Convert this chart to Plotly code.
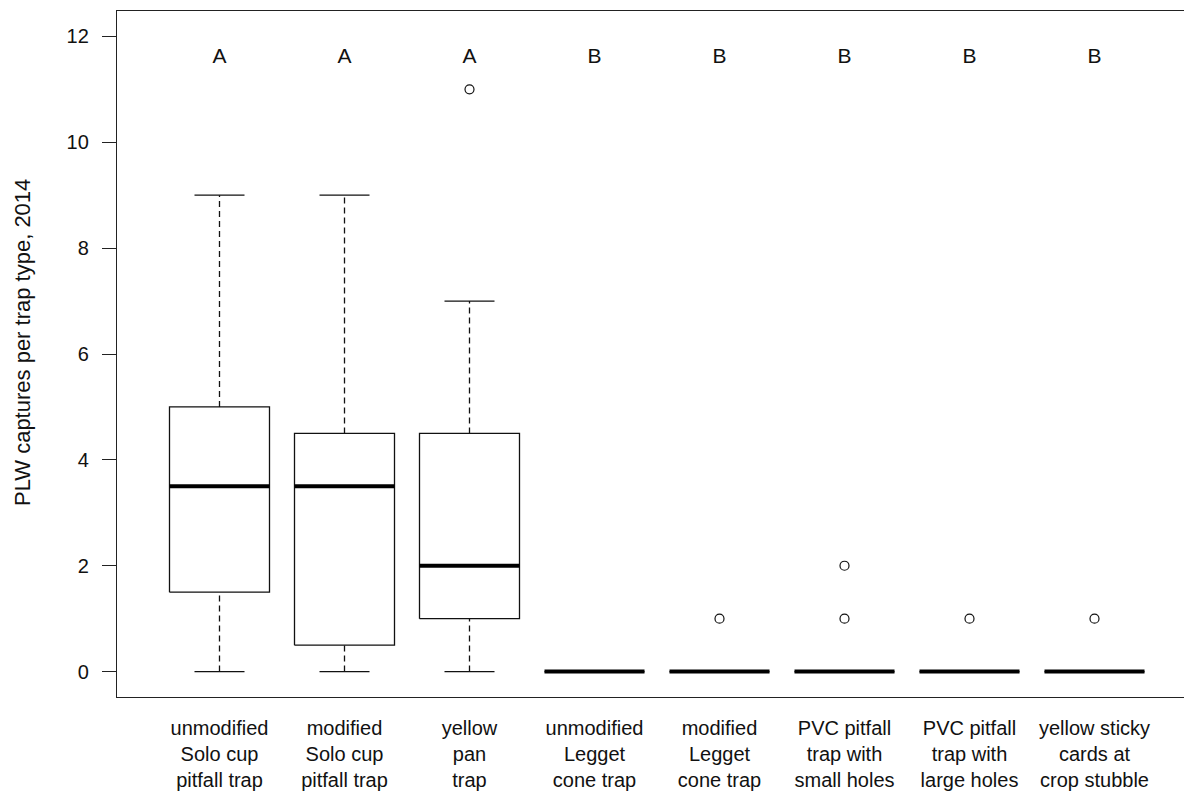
import plotly.graph_objects as go

# ---- data ----
categories = [
    "unmodified<br>Solo cup<br>pitfall trap",
    "modified<br>Solo cup<br>pitfall trap",
    "yellow<br>pan<br>trap",
    "unmodified<br>Legget<br>cone trap",
    "modified<br>Legget<br>cone trap",
    "PVC pitfall<br>trap with<br>small holes",
    "PVC pitfall<br>trap with<br>large holes",
    "yellow sticky<br>cards at<br>crop stubble",
]
positions = [1, 2, 3, 4, 5, 6, 7, 8]
lower_whisker = [0, 0, 0, 0, 0, 0, 0, 0]
q1 = [1.5, 0.5, 1.0, 0, 0, 0, 0, 0]
median = [3.5, 3.5, 2.0, 0, 0, 0, 0, 0]
q3 = [5.0, 4.5, 4.5, 0, 0, 0, 0, 0]
upper_whisker = [9, 9, 7, 0, 0, 0, 0, 0]
outlier_group = [3, 5, 6, 6, 7, 8]
outlier_value = [11, 1, 1, 2, 1, 1]
letters = ["A", "A", "A", "B", "B", "B", "B", "B"]
letter_y = 11.6
y_ticks = [0, 2, 4, 6, 8, 10, 12]

BOXW = 0.4   # half width of box
CAPW = 0.2   # half width of whisker cap
INK = "#111111"
FONT = "Liberation Sans, Arial, sans-serif"

box_x, box_y = [], []
wh_x, wh_y = [], []
cap_x, cap_y = [], []
med_x, med_y = [], []
for p, lw, a, m, b, uw in zip(positions, lower_whisker, q1, median, q3, upper_whisker):
    box_x += [p - BOXW, p + BOXW, p + BOXW, p - BOXW, p - BOXW, None]
    box_y += [a, a, b, b, a, None]
    wh_x += [p, p, None, p, p, None]
    wh_y += [lw, a, None, b, uw, None]
    cap_x += [p - CAPW, p + CAPW, None, p - CAPW, p + CAPW, None]
    cap_y += [lw, lw, None, uw, uw, None]
    med_x += [p - BOXW, p + BOXW, None]
    med_y += [m, m, None]

fig = go.Figure()
fig.add_trace(go.Scatter(x=wh_x, y=wh_y, mode="lines",
                         line=dict(color=INK, width=1.3, dash="6px,4px"),
                         hoverinfo="skip"))
fig.add_trace(go.Scatter(x=cap_x, y=cap_y, mode="lines",
                         line=dict(color=INK, width=1.3), hoverinfo="skip"))
fig.add_trace(go.Scatter(x=box_x, y=box_y, mode="lines",
                         line=dict(color=INK, width=1.3), hoverinfo="skip"))
fig.add_trace(go.Scatter(x=med_x, y=med_y, mode="lines",
                         line=dict(color="#000000", width=4), hoverinfo="skip"))
fig.add_trace(go.Scatter(x=outlier_group, y=outlier_value, mode="markers",
                         marker=dict(symbol="circle-open", size=9, color=INK,
                                     line=dict(width=1.2, color=INK))))
fig.add_trace(go.Scatter(x=positions, y=[letter_y] * len(positions), mode="text",
                         text=letters, textposition="middle center",
                         textfont=dict(size=21, color=INK, family=FONT)))

W, H = 1184, 792
ML, MR, MT, MB = 117, 0, 11, 95
fig.update_layout(
    width=W, height=H,
    margin=dict(l=ML, r=MR, t=MT, b=MB),
    paper_bgcolor="white", plot_bgcolor="white",
    showlegend=False,
    font=dict(family=FONT, size=20, color=INK),
    xaxis=dict(
        range=[0.18, 0.18 + (W - ML - MR) / 125.0],
        tickvals=positions, ticktext=categories,
        ticks="", showgrid=False, zeroline=False,
        showline=True, mirror=True, linecolor="#222222", linewidth=1.3,
        tickfont=dict(size=20, color=INK, family=FONT),
        ticklabelstandoff=13,
    ),
    yaxis=dict(
        range=[-0.48, 12.48],
        tickvals=y_ticks, ticktext=[str(v) for v in y_ticks],
        ticks="outside", ticklen=14, tickwidth=1.3, tickcolor="#222222",
        showgrid=False, zeroline=False,
        showline=True, mirror=False, linecolor="#222222", linewidth=1.3,
        tickfont=dict(size=20, color=INK, family=FONT),
        ticklabelstandoff=9,
    ),
    annotations=[dict(
        text="PLW captures per trap type, 2014",
        xref="paper", yref="paper",
        x=(22 - ML) / (W - ML - MR), y=(H - MB - 343) / (H - MB - MT),
        xanchor="center", yanchor="middle", textangle=-90, showarrow=False,
        font=dict(size=22, color=INK, family=FONT),
    )],
)

fig.write_html("out.html")
